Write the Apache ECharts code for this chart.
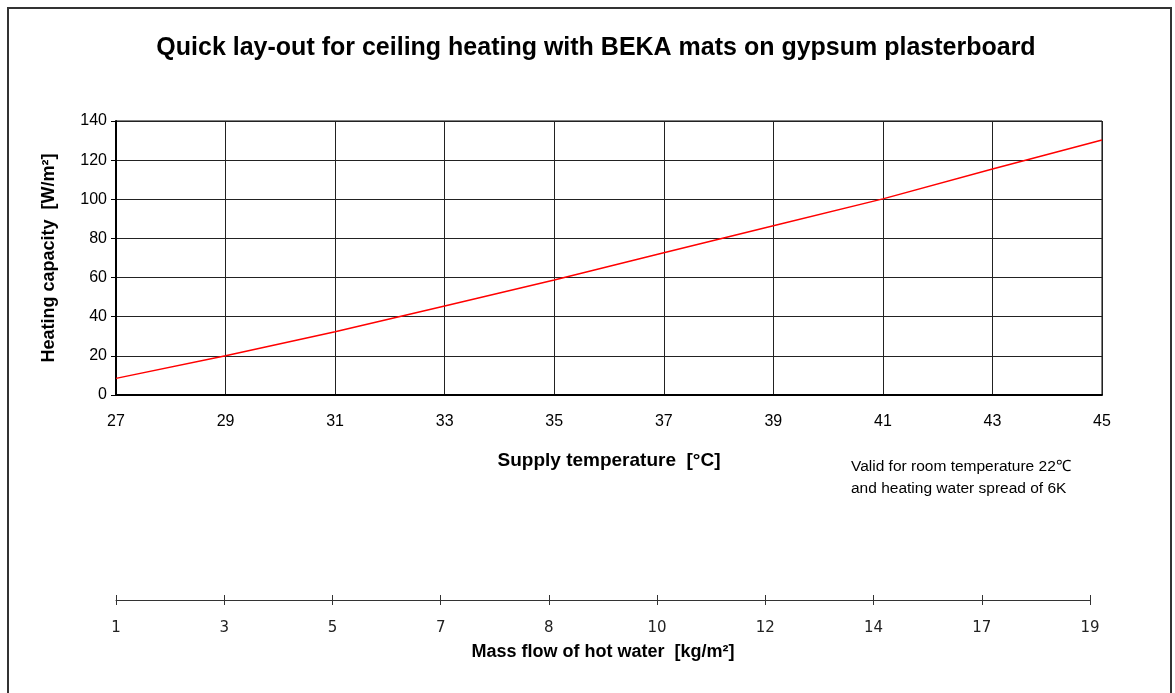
<!DOCTYPE html>
<html>
<head>
<meta charset="utf-8">
<script src="https://cdn.jsdelivr.net/npm/echarts@6/dist/echarts.min.js"></script>
<style>html,body{margin:0;padding:0;background:#fff}#c{width:1175px;height:693px}</style>
</head>
<body>
<div id="c"></div>
<script>
var titleText = 'Quick lay-out for ceiling heating with BEKA mats on gypsum plasterboard';
var supplyTemps = [27, 29, 31, 33, 35, 37, 39, 41, 43, 45];
var heatingCapacity = [8.5, 20, 32.3, 45.5, 58.8, 72.7, 86.5, 100.2, 115.5, 130.3];
var massFlowLabels = ['1', '3', '5', '7', '8', '10', '12', '14', '17', '19'];
var xName = 'Supply temperature  [°C]';
var yName = 'Heating capacity  [W/m²]';
var massName = 'Mass flow of hot water  [kg/m²]';
var noteText = 'Valid for room temperature 22℃\nand heating water spread of 6K';

var chart = echarts.init(document.getElementById('c'), null, {renderer: 'canvas'});
var lineData = supplyTemps.map(function (t, i) { return [t, heatingCapacity[i]]; });

chart.setOption({
  animation: false,
  backgroundColor: '#fff',
  title: {
    text: titleText,
    left: 591, top: 31, textAlign: 'center',
    textStyle: {fontFamily: 'Liberation Sans, Arial', fontWeight: 'bold', fontSize: 25, color: '#000'}
  },
  graphic: [
    {type: 'rect', shape: {x: 8, y: 8, width: 1163, height: 700}, style: {fill: 'none', stroke: '#333', lineWidth: 2}, silent: true},
    {type: 'text', left: 851, top: 456, style: {text: noteText, fontFamily: 'Liberation Sans, Arial', fontSize: 15.5, lineHeight: 22, fill: '#000'}}
  ],
  grid: [
    {left: 116, top: 121, width: 986, height: 274, show: true, borderColor: '#000', borderWidth: 1, containLabel: false},
    {left: 116, top: 560, width: 974, height: 40, show: false, containLabel: false}
  ],
  xAxis: [
    {
      gridIndex: 0, type: 'value', min: 27, max: 45, interval: 2,
      name: xName, nameLocation: 'middle', nameGap: 56,
      nameTextStyle: {fontFamily: 'Liberation Sans, Arial', fontWeight: 'bold', fontSize: 19, color: '#000'},
      axisLine: {show: true, lineStyle: {color: '#000', width: 2}},
      axisTick: {show: false},
      axisLabel: {fontFamily: 'Liberation Sans, Arial', fontSize: 16, color: '#000', margin: 19},
      splitLine: {show: true, lineStyle: {color: '#222', width: 1}}
    },
    {
      gridIndex: 1, type: 'category', data: massFlowLabels, boundaryGap: false, position: 'bottom',
      name: massName, nameLocation: 'middle', nameGap: 43,
      nameTextStyle: {fontFamily: 'Liberation Sans, Arial', fontWeight: 'bold', fontSize: 18, color: '#000'},
      axisLine: {show: true, lineStyle: {color: '#333', width: 1}},
      axisTick: {show: true, length: 5, lineStyle: {color: '#333'}, alignWithLabel: true},
      axisLabel: {fontFamily: 'DejaVu Sans', fontSize: 15, color: '#222', margin: 21},
      splitLine: {show: false}
    },
    {
      gridIndex: 1, type: 'category', data: massFlowLabels, boundaryGap: false, position: 'bottom', offset: 0,
      axisLine: {show: false},
      axisTick: {show: true, inside: true, length: 5, lineStyle: {color: '#333'}},
      axisLabel: {show: false},
      splitLine: {show: false}
    }
  ],
  yAxis: [
    {
      gridIndex: 0, type: 'value', min: 0, max: 140, interval: 20,
      name: yName, nameLocation: 'middle', nameGap: 58, nameRotate: 90,
      nameTextStyle: {fontFamily: 'Liberation Sans, Arial', fontWeight: 'bold', fontSize: 18, color: '#000'},
      axisLine: {show: true, lineStyle: {color: '#000', width: 2}},
      axisTick: {show: true, length: 5, lineStyle: {color: '#000'}},
      axisLabel: {fontFamily: 'Liberation Sans, Arial', fontSize: 16, color: '#000', margin: 9},
      splitLine: {show: true, lineStyle: {color: '#222', width: 1}}
    },
    {gridIndex: 1, type: 'value', show: false, min: 0, max: 1}
  ],
  series: [
    {
      type: 'line', xAxisIndex: 0, yAxisIndex: 0, data: lineData, smooth: false,
      symbol: 'none', lineStyle: {color: '#ff0000', width: 1.5}
    },
    {
      type: 'line', xAxisIndex: 1, yAxisIndex: 1, data: [], symbol: 'none'
    }
  ]
});
</script>
</body>
</html>
